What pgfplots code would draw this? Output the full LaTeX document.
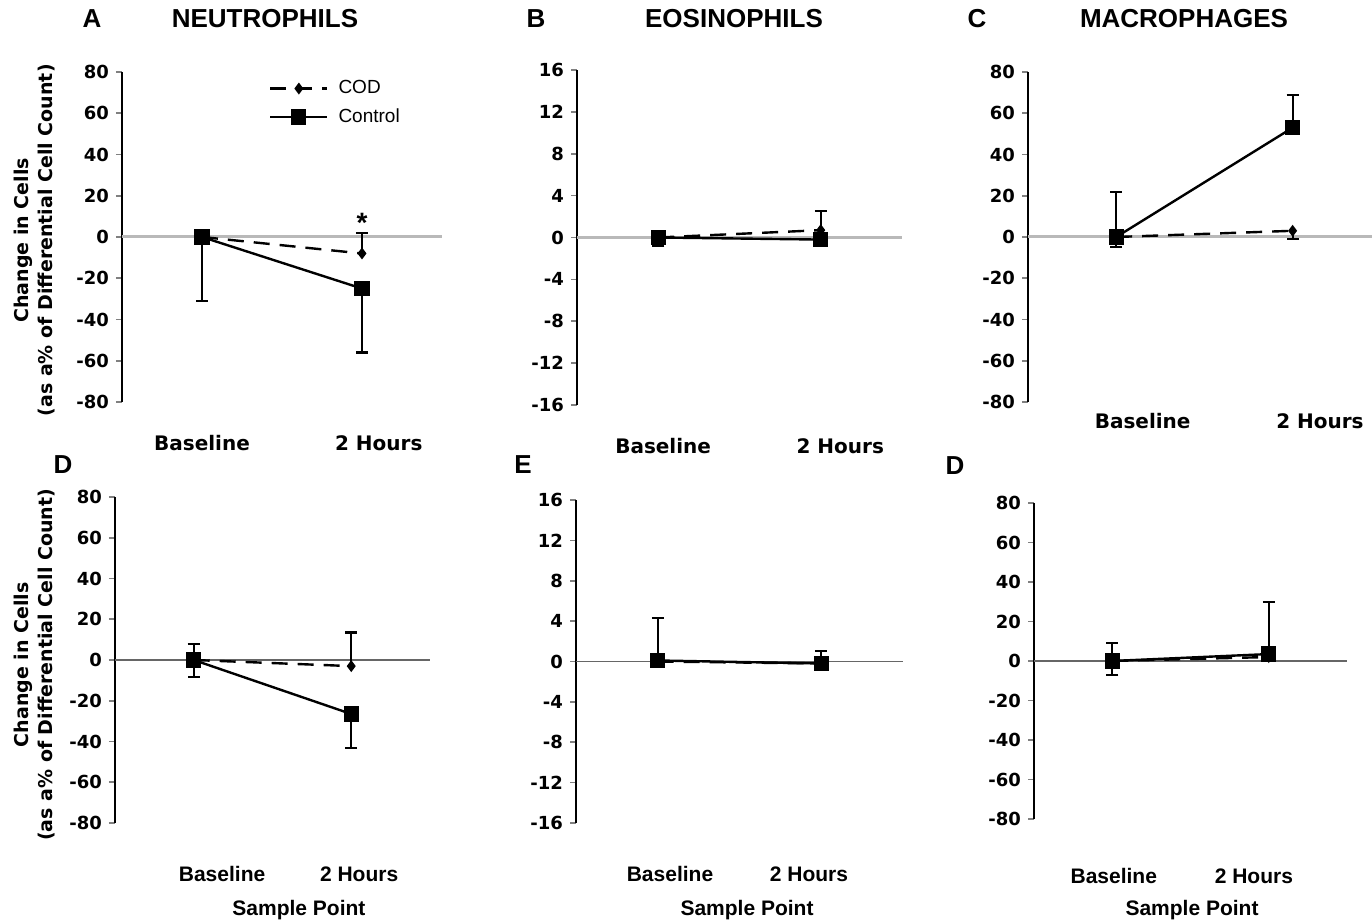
\documentclass[border=0pt]{standalone}
\usepackage{fontspec}
\setmainfont{Liberation Sans}
\newfontfamily\dejavu{DejaVu Sans}
\usepackage{pgfplots}
\pgfplotsset{compat=1.18}

\pgfplotsset{
  panel/.style={
    scale only axis, anchor=south west, clip=false,
    axis y line=left, axis x line=bottom,
    x axis line style={draw=none},
    y axis line style={-, line width=0.9pt},
    xmin=0, xmax=4,
    xtick style={draw=none},
    ytick style={line width=0.8pt},
    tick align=outside, major tick length=3pt,
    yticklabel style={font=\dejavu\bfseries\fontsize{9}{10}\selectfont},
    /pgf/number format/assume math mode=true,
  },
  bigy/.style={ymin=-80, ymax=80, ytick={-80,-60,...,80}},
  smally/.style={ymin=-16, ymax=16, ytick={-16,-12,...,16}},
  toplab/.style={xticklabel style={font=\dejavu\bfseries\fontsize{10}{12}\selectfont, anchor=center, yshift=#1}},
  botlab/.style={xticklabel style={font=\bfseries\fontsize{10.5}{12}\selectfont, anchor=center, yshift=#1},
    xlabel={Sample Point}, xlabel style={font=\bfseries\fontsize{10.5}{12}\selectfont, anchor=center}},
  ylab/.style={ylabel={Change in Cells\\(as a\% of Differential Cell Count)},
    ylabel style={font=\dejavu\bfseries\fontsize{9.5}{12}\selectfont, align=center, anchor=center}},
  cod/.style={black, line width=1.2pt, dash pattern=on 8pt off 5pt,
    mark=diamond*, mark size=2pt, mark options={solid},
    error bars/y explicit,
    error bars/error bar style={solid, line width=1.1pt},
    error bars/error mark options={rotate=90, black, solid, mark size=3pt, line width=1.1pt}},
  ctrl/.style={black, line width=1.2pt, mark=square*, mark size=3.2pt,
    error bars/y explicit,
    error bars/error bar style={solid, line width=1.1pt},
    error bars/error mark options={rotate=90, black, solid, mark size=3pt, line width=1.1pt}},
  legend image code/.code={\draw[mark repeat=2, mark phase=2, #1]
    plot coordinates {(0cm,0cm) (0.5cm,0cm) (1cm,0cm)};},
}

\begin{document}
\begin{tikzpicture}
\useasboundingbox (0,0) rectangle (686pt,462pt);

% titles
\begin{scope}[font=\bfseries\fontsize{13}{15}\selectfont]
\node at (46pt,452.5pt) {A};
\node at (132.5pt,452.5pt) {NEUTROPHILS};
\node at (268pt,452.5pt) {B};
\node at (367pt,452.5pt) {EOSINOPHILS};
\node at (488.5pt,452.5pt) {C};
\node at (592pt,452.5pt) {MACROPHAGES};
\node at (31.5pt,229.5pt) {D};
\node at (261.5pt,229.5pt) {E};
\node at (477.5pt,229pt) {D};
\end{scope}

% A neutrophils
\begin{axis}[panel, bigy, at={(61pt,261pt)}, width=160pt, height=165pt,
  xtick={1,3.21}, xticklabels={Baseline,2 Hours}, toplab=-17.5pt,
  ylab, ylabel style={at={(axis description cs:-0.273,0.49)}},
  legend style={at={(axis description cs:0.44,1.0)}, anchor=north west,
    draw=none, fill=none, font=\fontsize{9.5}{11}\selectfont, row sep=2pt,
    nodes={inner xsep=5pt}},
  legend cell align=left]
\draw[gray!55, line width=1.5pt] (axis cs:0,0) -- (axis cs:4,0);
\addplot[cod, error bars/y dir=plus] coordinates {
  (1,0) += (0,0)
  (3,-8) += (0,10)
};
\addplot[ctrl, error bars/y dir=minus] coordinates {
  (1,0) -= (0,31)
  (3,-25) -= (0,31)
};
\legend{COD, Control}
\node[font=\bfseries\fontsize{14}{16}\selectfont] at (axis cs:3,7) {*};
\end{axis}

% B eosinophils
\begin{axis}[panel, smally, at={(288.5pt,259.5pt)}, width=162.5pt, height=167.5pt,
  xtick={1.06,3.24}, xticklabels={Baseline,2 Hours}, toplab=-17.5pt]
\draw[gray!55, line width=1.5pt] (axis cs:0,0) -- (axis cs:4,0);
\addplot[cod, error bars/y dir=plus] coordinates {
  (1,0) += (0,0)
  (3,0.7) += (0,1.8)
};
\addplot[ctrl, error bars/y dir=minus] coordinates {
  (1,0) -= (0,0.8)
  (3,-0.2) -= (0,0)
};
\end{axis}

% C macrophages
\begin{axis}[panel, bigy, at={(514pt,261pt)}, width=172pt, height=165pt, xmax=3.9,
  xtick={1.30,3.31}, xticklabels={Baseline,2 Hours}, toplab=-6.5pt]
\draw[gray!55, line width=1.5pt] (axis cs:0,0) -- (axis cs:3.9,0);
\addplot[cod, error bars/y dir=minus] coordinates {
  (1,0) -= (0,0)
  (3,3) -= (0,4)
};
\addplot[ctrl, error bars/y dir=both] coordinates {
  (1,0) += (0,22) -= (0,5)
  (3,53) += (0,16) -= (0,0)
};
\end{axis}

% D neutrophils (second set)
\begin{axis}[panel, bigy, at={(57.5pt,50.5pt)}, width=157.5pt, height=163pt,
  xtick={1.36,3.10}, xticklabels={Baseline,2 Hours}, botlab=-22.5pt,
  xlabel style={at={(axis description cs:0.584,-0.267)}},
  ylab, ylabel style={at={(axis description cs:-0.256,0.485)}}]
\draw[black!60, line width=0.9pt] (axis cs:0,0) -- (axis cs:4,0);
\addplot[cod, error bars/y dir=plus] coordinates {
  (1,0) += (0,0)
  (3,-3) += (0,16.5)
};
\addplot[ctrl, error bars/y dir=both] coordinates {
  (1,0) += (0,8) -= (0,8.5)
  (3,-26.5) += (0,0) -= (0,16.5)
};
\end{axis}

% E eosinophils (second set)
\begin{axis}[panel, smally, at={(288pt,50.5pt)}, width=163.5pt, height=161.5pt,
  xtick={1.15,2.85}, xticklabels={Baseline,2 Hours}, botlab=-22.5pt,
  xlabel style={at={(axis description cs:0.523,-0.269)}}]
\draw[black!60, line width=0.9pt] (axis cs:0,0) -- (axis cs:4,0);
\addplot[cod, error bars/y dir=plus] coordinates {
  (1,0) += (0,4.3)
  (3,-0.2) += (0,1.2)
};
\addplot[ctrl] coordinates {
  (1,0.1)
  (3,-0.2)
};
\end{axis}

% D macrophages (second set)
\begin{axis}[panel, bigy, at={(517pt,52.5pt)}, width=156.5pt, height=158pt,
  xtick={1.02,2.81}, xticklabels={Baseline,2 Hours}, botlab=-25.5pt,
  xlabel style={at={(axis description cs:0.505,-0.288)}}]
\draw[black!60, line width=0.9pt] (axis cs:0,0) -- (axis cs:4,0);
\addplot[cod] coordinates {
  (1,0)
  (3,2)
};
\addplot[ctrl, error bars/y dir=both] coordinates {
  (1,0) += (0,9) -= (0,7)
  (3,3.5) += (0,26.5) -= (0,0)
};
\end{axis}
\end{tikzpicture}
\end{document}
